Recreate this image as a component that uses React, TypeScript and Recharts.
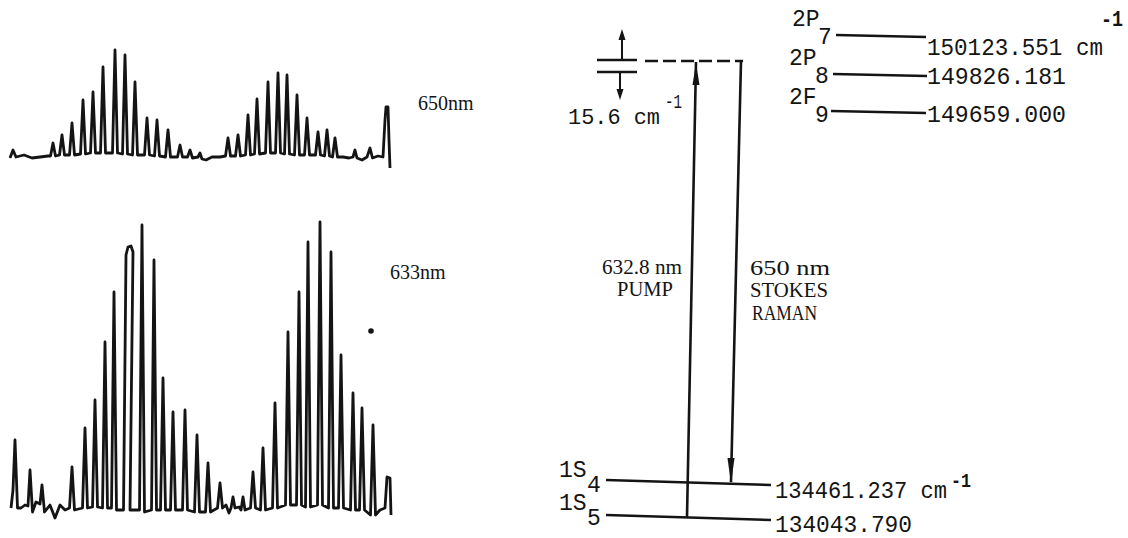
import React from 'react';
import {
  LineChart,
  Line,
  XAxis,
  YAxis,
  ComposedChart,
  ReferenceLine,
  Scatter,
} from 'recharts';

// ---------- spectra: [channel, relative intensity] ----------
const spectrum650: [number, number][] = [
  [0, 12], [3, 20], [6, 13], [14, 15], [22, 12], [30, 13], [38, 14],
  [40.5, 14], [43, 27], [45.5, 14],
  [49.5, 15], [52, 35], [54.5, 15],
  [59.5, 15], [62, 47], [64.5, 15],
  [70.5, 16], [73, 70], [75.5, 16],
  [80.5, 17], [83, 78], [85.5, 17],
  [90.5, 17], [93, 103], [95.5, 17],
  [102.5, 17], [105, 120], [107.5, 17],
  [112.5, 16], [115, 115], [117.5, 16],
  [122.5, 15], [125, 88], [127.5, 15],
  [134.5, 15], [137, 52], [139.5, 15],
  [144.5, 14], [147, 50], [149.5, 14],
  [155.5, 13], [158, 40], [160.5, 13],
  [167.5, 13], [170, 25], [172.5, 13],
  [177.5, 13], [180, 20], [182.5, 12],
  [188, 13], [190, 17], [192, 11], [196, 10], [202, 13], [210, 13],
  [215.5, 14], [218, 32], [220.5, 14],
  [225.5, 14], [228, 35], [230.5, 14],
  [235.5, 15], [238, 55], [240.5, 15],
  [244.5, 16], [247, 71], [249.5, 16],
  [255.5, 17], [258, 88], [260.5, 17],
  [265.5, 17], [268, 97], [270.5, 17],
  [274.5, 16], [277, 95], [279.5, 16],
  [284.5, 15], [287, 75], [289.5, 15],
  [294.5, 15], [297, 52], [299.5, 15],
  [305.5, 15], [308, 38], [310.5, 15],
  [314.5, 14], [317, 40], [319.5, 14],
  [322.5, 13], [325, 32], [327.5, 13],
  [333, 13], [339, 12],
  [343, 13], [345, 20], [347, 12],
  [352, 10], [357, 13], [360, 22], [362.5, 12], [368, 14], [373, 13],
  [375, 50], [376, 63], [378, 63], [379, 30], [380, 2],
];

const spectrum633: [number, number][] = [
  [1, 12], [3, 30], [5, 80], [7.5, 12], [11, 12], [15, 15],
  [18, 14], [20, 50], [22.5, 8], [26, 18],
  [30, 16], [32, 35], [34.5, 8], [40, 15], [45, 2], [50, 15], [55, 10],
  [59.5, 12], [62, 53], [64.5, 10],
  [72.5, 12], [75, 92], [77.5, 12],
  [82.5, 13], [85, 120], [87.5, 13],
  [92.5, 12], [95, 178], [97.5, 12],
  [101.5, 12], [104, 228], [106.5, 10],
  [113.5, 10], [116, 265], [118, 273], [121, 274], [123, 268], [120, 10],
  [129.5, 10], [132, 295], [134.5, 8],
  [141.5, 10], [144, 260], [146.5, 10],
  [150.5, 10], [153, 142], [155.5, 10],
  [160.5, 10], [163, 108], [165.5, 10],
  [172.5, 10], [175, 110], [177.5, 10],
  [184.5, 8], [187, 85], [189.5, 8],
  [195.5, 8], [198, 57], [200.5, 8],
  [207.5, 12], [210, 37], [212.5, 12], [216, 15], [219, 7],
  [221, 12], [223, 23], [225, 12], [229, 13],
  [231, 10], [233, 23], [235, 10],
  [240.5, 12], [243, 48], [245.5, 12],
  [250.5, 10], [253, 72], [255.5, 10],
  [262.5, 12], [265, 117], [267.5, 12],
  [275.5, 15], [278, 188], [280.5, 15],
  [286.5, 15], [289, 228], [291.5, 15],
  [295.5, 13], [298, 278], [300.5, 13],
  [307.5, 15], [310, 298], [312.5, 15],
  [318.5, 12], [321, 268], [323.5, 12],
  [328.5, 12], [331, 165], [333.5, 12],
  [340.5, 10], [343, 127], [345.5, 10],
  [349.5, 10], [352, 112], [354.5, 10],
  [360.5, 5], [363, 95], [365.5, 5], [370, 10],
  [375, 12], [377, 43], [380, 42], [381, 5],
];
const spectrumLabels = ['650nm', '633nm'];

// ---------- energy levels ----------
const upperTerms = ['2P', '2P', '2F'];
const upperSubs = ['7', '8', '9'];
const upperEnergies = ['150123.551', '149826.181', '149659.000'];
const lowerTerms = ['1S', '1S'];
const lowerSubs = ['4', '5'];
const lowerEnergies = ['134461.237', '134043.790'];
const waveUnit = 'cm';
const waveExp = '-1';
const detuningValue = '15.6';
const pumpLines = ['632.8 nm', 'PUMP'];
const stokesLines = ['650 nm', 'STOKES', 'RAMAN'];

// ---------- schematic layout (diagram units) ----------
const upperLineY = [[35, 37], [74, 76], [111, 113]];
const upperLineX = [[836, 926], [833, 927], [831, 926]];
const upperTermBase = [26, 65, 104];
const upperTermX = [792, 789, 789];
const upperTextBase = [55, 84, 122];
const lowerLineY = [[480, 485], [515, 520]];
const lowerTermBase = [477, 510];
const lowerTextBase = [498, 532];

const MONO = '"Liberation Mono", "DejaVu Sans Mono", monospace';
const SERIF = '"Liberation Serif", "DejaVu Serif", serif';
const INK = '#141414';

type Mark = {
  x: number; y: number; text: string; font: string; size: number;
  anchor?: string; weight?: string; len?: number;
};

const textMarks: Mark[] = [];
upperTerms.forEach((t, i) => {
  textMarks.push({ x: upperTermX[i], y: upperTermBase[i], text: t, font: MONO, size: 23 });
  textMarks.push({ x: upperTermX[i] + 26, y: upperTermBase[i] + 18, text: upperSubs[i], font: MONO, size: 23 });
  const label = i === 0 ? `${upperEnergies[i]} ${waveUnit}` : upperEnergies[i];
  textMarks.push({ x: 927, y: upperTextBase[i], text: label, font: MONO, size: 23, len: i === 0 ? 176 : 139 });
});
textMarks.push({ x: 1101, y: 26, text: waveExp, font: MONO, size: 22, weight: 'bold', len: 22 });
lowerTerms.forEach((t, i) => {
  textMarks.push({ x: 559, y: lowerTermBase[i], text: t, font: MONO, size: 23 });
  textMarks.push({ x: 587, y: lowerTermBase[i] + 15, text: lowerSubs[i], font: MONO, size: 23 });
  const label = i === 0 ? `${lowerEnergies[i]} ${waveUnit}` : lowerEnergies[i];
  textMarks.push({ x: 775, y: lowerTextBase[i], text: label, font: MONO, size: 23, len: i === 0 ? 172 : 137 });
});
textMarks.push({ x: 951, y: 487, text: waveExp, font: MONO, size: 21, weight: 'bold', len: 20 });
textMarks.push({ x: 568, y: 124, text: `${detuningValue} ${waveUnit}`, font: MONO, size: 22, len: 92 });
textMarks.push({ x: 665, y: 108, text: waveExp, font: MONO, size: 20, len: 17 });
textMarks.push({ x: 682, y: 274, text: pumpLines[0], font: SERIF, size: 20, anchor: 'end', len: 80 });
textMarks.push({ x: 673, y: 296, text: pumpLines[1], font: SERIF, size: 20, anchor: 'end', len: 56 });
textMarks.push({ x: 750, y: 275, text: stokesLines[0], font: SERIF, size: 20, len: 80 });
textMarks.push({ x: 750, y: 297, text: stokesLines[1], font: SERIF, size: 20, len: 78 });
textMarks.push({ x: 752, y: 320, text: stokesLines[2], font: SERIF, size: 20, len: 65 });
textMarks.push({ x: 418, y: 110, text: spectrumLabels[0], font: SERIF, size: 20 });
textMarks.push({ x: 390, y: 279, text: spectrumLabels[1], font: SERIF, size: 20 });

type Seg = { a: [number, number]; b: [number, number]; dash?: string; w?: number };
const segments: Seg[] = [
  { a: [597, 60], b: [637, 60] },
  { a: [597, 72], b: [637, 72] },
  { a: [622, 38], b: [622, 59], w: 2 },
  { a: [620, 73], b: [620, 92], w: 2 },
  { a: [645, 61], b: [743, 61], dash: '13 5' },
  { a: [696, 62], b: [687, 517] },
  { a: [741, 61], b: [731, 482] },
];
upperLineX.forEach((xs, i) => segments.push({ a: [xs[0], upperLineY[i][0]], b: [xs[1], upperLineY[i][1]] }));
lowerLineY.forEach((ys) => segments.push({ a: [606, ys[0]], b: [771, ys[1]] }));

const arrowHeads = [
  { x: 622, y: 29, dir: -1, len: 11, half: 3.5 },
  { x: 620, y: 100, dir: 1, len: 11, half: 3.5 },
  { x: 696, y: 63, dir: -1, len: 22, half: 3.5 },
  { x: 731, y: 484, dir: 1, len: 26, half: 3.5 },
];
const dots = [{ x: 371, y: 331 }];

const TextShape = (p: any) => {
  const d: Mark = p.payload;
  return (
    <text
      x={p.cx}
      y={p.cy}
      fontFamily={d.font}
      fontSize={d.size}
      fontWeight={d.weight || 'normal'}
      textAnchor={d.anchor || 'start'}
      fill={INK}
      {...(d.len ? { textLength: d.len, lengthAdjust: 'spacingAndGlyphs' } : {})}
    >
      {d.text}
    </text>
  );
};

const ArrowShape = (p: any) => {
  const d = p.payload;
  const { cx, cy } = p;
  const by = cy - d.dir * d.len;
  return <polygon points={`${cx},${cy} ${cx - d.half},${by} ${cx + d.half},${by}`} fill={INK} />;
};

const DotShape = (p: any) => <circle cx={p.cx} cy={p.cy} r={2.8} fill={INK} />;

const toRows = (s: [number, number][]) => s.map(([x, y]) => ({ x, y }));

const Spectrum = ({ data, top, height, yDomain }: { data: [number, number][]; top: number; height: number; yDomain: [number, number] }) => (
  <div style={{ position: 'absolute', left: 0, top, width: 400, height }}>
    <LineChart width={400} height={height} data={toRows(data)} margin={{ top: 0, right: 0, bottom: 0, left: 0 }}>
      <XAxis type="number" dataKey="x" domain={[-10, 390]} hide />
      <YAxis type="number" domain={yDomain} hide />
      <Line
        type="linear"
        dataKey="y"
        stroke={INK}
        strokeWidth={2.8}
        strokeLinejoin="round"
        dot={false}
        isAnimationActive={false}
      />
    </LineChart>
  </div>
);

export default function App() {
  return (
    <div style={{ position: 'absolute', left: 0, top: 0, width: 1128, height: 538, background: '#fff', overflow: 'hidden' }}>
      <Spectrum data={spectrum650} top={30} height={150} yDomain={[-10, 140]} />
      <Spectrum data={spectrum633} top={200} height={330} yDomain={[-10, 320]} />
      <div style={{ position: 'absolute', left: 0, top: 0 }}>
        <ComposedChart width={1128} height={538} margin={{ top: 0, right: 0, bottom: 0, left: 0 }}>
          <XAxis type="number" dataKey="x" domain={[0, 1128]} hide />
          <YAxis type="number" dataKey="y" domain={[0, 538]} reversed hide />
          {segments.map((s, i) => (
            <ReferenceLine
              key={`s${i}`}
              segment={[{ x: s.a[0], y: s.a[1] }, { x: s.b[0], y: s.b[1] }]}
              stroke={INK}
              strokeWidth={s.w || 2.6}
              strokeDasharray={s.dash}
              ifOverflow="visible"
            />
          ))}
          <Scatter data={arrowHeads} dataKey="y" shape={ArrowShape} isAnimationActive={false} />
          <Scatter data={dots} dataKey="y" shape={DotShape} isAnimationActive={false} />
          <Scatter data={textMarks} dataKey="y" shape={TextShape} isAnimationActive={false} />
        </ComposedChart>
      </div>
    </div>
  );
}
